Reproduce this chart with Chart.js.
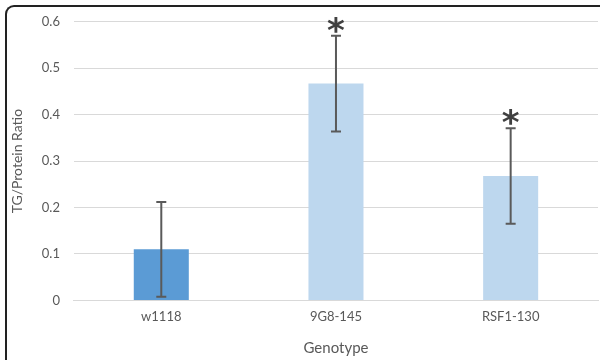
<!DOCTYPE html>
<html>
<head>
<meta charset="utf-8">
<script src="https://cdn.jsdelivr.net/npm/chart.js@4/dist/chart.umd.min.js"></script>
<style>
  html, body { margin: 0; padding: 0; background: #fff; }
  #wrap { position: relative; width: 600px; height: 360px; overflow: hidden; }
  #frame {
    position: absolute; left: 5px; top: 5px; width: 640px; height: 400px;
    border-top: 2px solid #222; border-left: 2px solid #222;
    border-top-left-radius: 9px; box-sizing: border-box;
  }
  canvas { position: absolute; left: 0; top: 0; }
</style>
</head>
<body>
<div id="wrap">
  <div id="frame"></div>
  <canvas id="tgChart" width="600" height="360"></canvas>
</div>
<script>
    // valores
    var genotypes = ['w1118', '9G8-145', 'RSF1-130'];
    var tgRatio = [0.11, 0.467, 0.268];
    var tgError = [0.102, 0.103, 0.103];
    var significant = [false, true, true];
    var barColors = ['#5b9bd5', '#bdd7ee', '#bdd7ee'];
    var yTicks = [0, 0.1, 0.2, 0.3, 0.4, 0.5, 0.6];

    var fontFamily = "Lato, 'Open Sans', 'Liberation Sans', sans-serif";

    // desenha as barras de erro e os asteriscos
    var errorBarsPlugin = {
        id: 'errorBars',
        afterDatasetsDraw: function (chart) {
            var ctx = chart.ctx;
            var meta = chart.getDatasetMeta(0);
            var yScale = chart.scales.y;
            ctx.save();
            meta.data.forEach(function (bar, i) {
                var x = bar.x;
                var top = yScale.getPixelForValue(tgRatio[i] + tgError[i]);
                var bottom = yScale.getPixelForValue(tgRatio[i] - tgError[i]);
                ctx.strokeStyle = '#5a5a5a';
                ctx.lineWidth = 2;
                ctx.beginPath();
                ctx.moveTo(x, top);
                ctx.lineTo(x, bottom);
                ctx.moveTo(x - 5, top);
                ctx.lineTo(x + 5, top);
                ctx.moveTo(x - 5, bottom);
                ctx.lineTo(x + 5, bottom);
                ctx.stroke();
                if (significant[i]) {
                    ctx.fillStyle = '#404040';
                    ctx.font = "bold 34px 'DejaVu Sans', sans-serif";
                    ctx.textAlign = 'center';
                    ctx.textBaseline = 'alphabetic';
                    ctx.fillText('*', x, top + 6);
                }
            });
            ctx.restore();
        }
    };

    var ctx = document.getElementById('tgChart').getContext('2d');
    var myChart = new Chart(ctx, {
        type: 'bar',
        data: {
            labels: genotypes,
            datasets: [{
                label: 'TG/Protein Ratio',
                data: tgRatio,
                backgroundColor: barColors,
                borderWidth: 0,
                categoryPercentage: 1,
                barPercentage: 0.315
            }]
        },
        options: {
            responsive: false,
            animation: false,
            layout: { padding: { left: 9, right: 2, top: 14, bottom: 3 } },
            plugins: {
                legend: { display: false },
                tooltip: { enabled: false }
            },
            scales: {
                x: {
                    grid: { display: false, drawTicks: false },
                    border: { display: true, color: '#d9d9d9', width: 1 },
                    ticks: { color: '#595959', font: { family: fontFamily, size: 13 }, padding: 9 },
                    title: { display: true, text: 'Genotype', color: '#595959', font: { family: fontFamily, size: 15 }, padding: { top: 5, bottom: 0 } }
                },
                y: {
                    min: 0,
                    max: 0.6,
                    afterBuildTicks: function (axis) {
                        axis.ticks = yTicks.map(function (v) { return { value: v }; });
                    },
                    grid: { color: '#d9d9d9', lineWidth: 1, drawTicks: false },
                    border: { display: false },
                    ticks: {
                        color: '#595959',
                        font: { family: fontFamily, size: 13 },
                        padding: 14,
                        callback: function (v) { return v === 0 ? '0' : v.toFixed(1); }
                    },
                    title: { display: true, text: 'TG/Protein Ratio', color: '#595959', font: { family: fontFamily, size: 14 }, padding: { top: 0, bottom: 2 } }
                }
            }
        },
        plugins: [errorBarsPlugin]
    });
</script>
</body>
</html>
